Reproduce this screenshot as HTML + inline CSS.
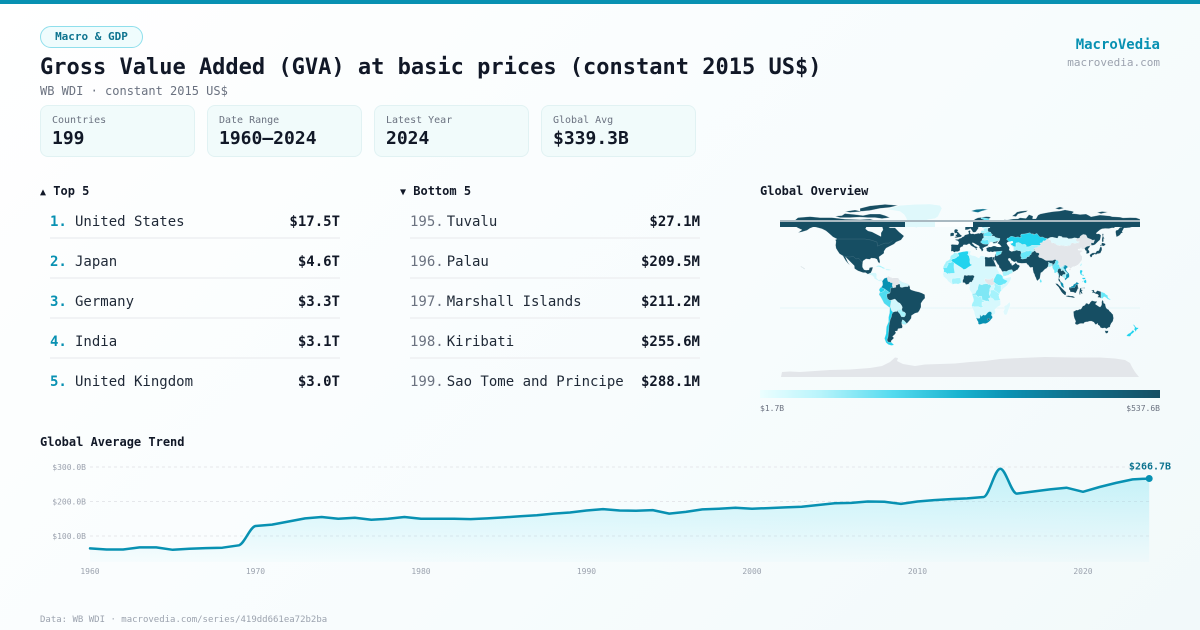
<!DOCTYPE html>
<html>
<head>
<meta charset="utf-8">
<style>
*{margin:0;padding:0;box-sizing:border-box;}
html,body{width:1200px;height:630px;overflow:hidden;}
body{font-family:"DejaVu Sans Mono","Liberation Mono",monospace;color:#111827;background:linear-gradient(135deg,#ffffff 0%,#f7fcfd 60%,#f2f9fa 100%);position:relative;}
.a{position:absolute;white-space:nowrap;}
.bar{left:0;top:0;width:1200px;height:4px;background:#0891b2;}
.pill{left:40px;top:26px;width:103px;height:22px;border:1px solid #8fdfec;border-radius:11px;background:#effcfd;color:#0e7490;font-size:11px;font-weight:bold;line-height:20px;text-align:center;}
.title{left:40px;top:53px;font-size:22px;font-weight:bold;line-height:30px;color:#111827;}
.sub{left:40px;top:83px;font-size:12px;line-height:16px;color:#6b7280;}
.brand{right:40px;top:35.5px;font-size:14px;font-weight:bold;line-height:18px;color:#0891b2;text-align:right;}
.site{right:40px;top:56px;font-size:11px;line-height:14px;color:#9ca3af;text-align:right;}
.card{top:105px;width:155px;height:52px;background:#f1fbfb;border:1px solid #e1f2f3;border-radius:8px;}
.card .l{position:absolute;left:11px;top:7.5px;font-size:10px;line-height:14px;color:#6b7280;}
.card .v{position:absolute;left:11px;top:21.5px;font-size:18px;font-weight:bold;line-height:22px;color:#111827;}
.h{font-size:12px;font-weight:bold;line-height:16px;color:#111827;}
.row{height:20px;line-height:20px;font-size:14px;}
.rk{display:inline-block;min-width:22px;margin-right:3px;}
.rk.t{color:#0891b2;font-weight:bold;}
.rk.b{color:#6b7280;}
.nm{color:#1f2937;}
.val{position:absolute;right:0;top:0;font-weight:bold;color:#111827;}
.sep{height:2px;background:#f1f3f5;}
.cbl{font-size:8px;line-height:10px;color:#6b7280;}
.foot{left:40px;top:614px;font-size:9px;line-height:12px;color:#9ca3af;}
</style>
</head>
<body>
<div class="a bar"></div>
<div class="a pill">Macro &amp; GDP</div>
<div class="a title">Gross Value Added (GVA) at basic prices (constant 2015 US$)</div>
<div class="a sub">WB WDI · constant 2015 US$</div>
<div class="a brand">MacroVedia</div>
<div class="a site">macrovedia.com</div>

<div class="a card" style="left:40px;"><div class="l">Countries</div><div class="v">199</div></div>
<div class="a card" style="left:207px;"><div class="l">Date Range</div><div class="v">1960–2024</div></div>
<div class="a card" style="left:374px;"><div class="l">Latest Year</div><div class="v">2024</div></div>
<div class="a card" style="left:541px;"><div class="l">Global Avg</div><div class="v">$339.3B</div></div>

<div class="a h" style="left:40px;top:183px;"><span style="font-size:10px;">▲</span> Top 5</div>
<div class="a h" style="left:400px;top:183px;"><span style="font-size:10px;">▼</span> Bottom 5</div>
<div class="a h" style="left:760px;top:183px;">Global Overview</div>

<!-- Top 5 -->
<div class="a row" style="left:50px;top:212px;width:290px;"><span class="rk t">1.</span><span class="nm">United States</span><span class="val">$17.5T</span></div>
<div class="a sep" style="left:50px;top:237px;width:290px;"></div>
<div class="a row" style="left:50px;top:252px;width:290px;"><span class="rk t">2.</span><span class="nm">Japan</span><span class="val">$4.6T</span></div>
<div class="a sep" style="left:50px;top:277px;width:290px;"></div>
<div class="a row" style="left:50px;top:292px;width:290px;"><span class="rk t">3.</span><span class="nm">Germany</span><span class="val">$3.3T</span></div>
<div class="a sep" style="left:50px;top:317px;width:290px;"></div>
<div class="a row" style="left:50px;top:332px;width:290px;"><span class="rk t">4.</span><span class="nm">India</span><span class="val">$3.1T</span></div>
<div class="a sep" style="left:50px;top:357px;width:290px;"></div>
<div class="a row" style="left:50px;top:372px;width:290px;"><span class="rk t">5.</span><span class="nm">United Kingdom</span><span class="val">$3.0T</span></div>

<!-- Bottom 5 -->
<div class="a row" style="left:410px;top:212px;width:290px;"><span class="rk b">195.</span><span class="nm">Tuvalu</span><span class="val">$27.1M</span></div>
<div class="a sep" style="left:410px;top:237px;width:290px;"></div>
<div class="a row" style="left:410px;top:252px;width:290px;"><span class="rk b">196.</span><span class="nm">Palau</span><span class="val">$209.5M</span></div>
<div class="a sep" style="left:410px;top:277px;width:290px;"></div>
<div class="a row" style="left:410px;top:292px;width:290px;"><span class="rk b">197.</span><span class="nm">Marshall Islands</span><span class="val">$211.2M</span></div>
<div class="a sep" style="left:410px;top:317px;width:290px;"></div>
<div class="a row" style="left:410px;top:332px;width:290px;"><span class="rk b">198.</span><span class="nm">Kiribati</span><span class="val">$255.6M</span></div>
<div class="a sep" style="left:410px;top:357px;width:290px;"></div>
<div class="a row" style="left:410px;top:372px;width:290px;"><span class="rk b">199.</span><span class="nm">Sao Tome and Principe</span><span class="val">$288.1M</span></div>

<div class="a h" style="left:40px;top:433.5px;">Global Average Trend</div>

<svg class="a" style="left:0;top:0;" width="1200" height="630" viewBox="0 0 1200 630">
<defs>
<linearGradient id="cb" x1="0" y1="0" x2="1" y2="0">
<stop offset="0" stop-color="#ecfeff"/>
<stop offset="0.15" stop-color="#b8f4fb"/>
<stop offset="0.33" stop-color="#55dbef"/>
<stop offset="0.5" stop-color="#19b3cf"/>
<stop offset="0.62" stop-color="#0b92b3"/>
<stop offset="0.78" stop-color="#10718d"/>
<stop offset="1" stop-color="#164e63"/>
</linearGradient>
<linearGradient id="ar" x1="0" y1="468" x2="0" y2="562" gradientUnits="userSpaceOnUse">
<stop offset="0" stop-color="#22d3ee" stop-opacity="0.24"/>
<stop offset="1" stop-color="#22d3ee" stop-opacity="0.02"/>
</linearGradient>
</defs>

<!-- MAP -->
<line x1="780" y1="308" x2="1140" y2="308" stroke="#e4f6f9" stroke-width="1"/>
<polygon fill="#e3e6ea" points="781,377 782,372 790,371.5 800,372 815,371 830,370 850,369.5 870,368 882,366 890,362 895,357.5 898,358 897,361 903,364 915,366 925,364.5 940,364 955,363.5 970,362 985,361 1000,359 1020,358 1045,357 1075,357.5 1100,357.5 1115,358.5 1125,360 1130,363 1132,367 1135,372 1139,377"/>
<g transform="translate(960,289) scale(1,-1.02)" stroke="#ffffff" stroke-width="0.25" stroke-linejoin="round">
<!-- North America -->
<polygon fill="#164e63" points="-168,65 -162,70 -150,71 -140,70 -128,70 -115,68.5 -100,68 -90,68.5 -82,66.5 -86,64 -93,62 -94.5,59 -92,57 -88,56 -82,53 -79,51.5 -79,55 -77,58 -78,62 -73,62 -70,60 -65,60 -61,56 -56,52 -59,48 -64,46 -66,44 -70,42 -74,40 -76,37 -76,35 -81,31.5 -80,27 -80.5,25 -82,26.5 -83,29 -85,30 -89,30.3 -90,29 -94,29.5 -97,27.5 -97.5,24 -97.5,21.5 -96,19 -94,18.5 -91,18.8 -90.5,21 -87,21.5 -88,18 -89,15.8 -92,14.5 -94.5,16 -97,16 -102,17.8 -105.5,20 -105.7,22.8 -109,26 -112,29 -114.5,31.5 -113,28 -112,26 -110,23 -112,25 -114.5,28 -116,30.5 -117.1,32.5 -120.5,34.5 -122.5,37.5 -124,40 -124.5,43 -124,46.5 -124.7,48.3 -123,49 -127,51 -131,54.5 -134,57 -138,59 -142,60 -146,61 -150,59.5 -153,57.5 -158,56 -162,55.2 -158,58 -162,59.8 -165,61.5 -164,63.5 -168,65.5"/>
<polyline fill="none" stroke="#ffffff" stroke-opacity="0.35" points="-123,49 -95,49 -89,48 -83,46 -82.5,42 -79,43.5 -75,45 -71,45 -67.5,47.5"/>
<polyline fill="none" stroke="#ffffff" stroke-opacity="0.35" points="-117.1,32.5 -111,31.3 -106.5,31.8 -104,29.5 -101,29.8 -97.5,26"/>
<polygon fill="#164e63" points="-125,71.5 -118,72 -115,74 -105,73 -97,72 -90,73.5 -80,73.5 -75,72 -70,70 -78,69 -85,70 -92,70 -100,70.5 -110,70 -120,70"/>
<polygon fill="#164e63" points="-100,76 -90,77 -80,79 -70,80 -62,82 -75,83 -90,81.5 -100,79"/>
<polygon fill="#164e63" points="-115,76 -105,77.5 -98,76 -110,75"/>
<polygon fill="#164e63" points="-160,22 -157,21 -155,19 -156,20.5 -158,21.7"/>
<!-- Greenland / Iceland -->
<polygon fill="#dff8fb" points="-73,78 -67,80 -60,82 -45,83 -30,83.3 -20,82 -18,79 -20,75 -22,71 -25,69 -32,68 -38,65.5 -43,60 -48,61 -51,64 -53,67 -54,70 -56,73 -60,76 -66,77"/>
<polygon fill="#164e63" points="-24,65.5 -22,64 -18,63.5 -14,64.5 -14,66 -17,66.5 -22,66.5"/>
<!-- Central America & Caribbean -->
<polygon fill="#d2f7fc" points="-92,14.5 -89,15.8 -88,18 -88.5,16 -84,15.8 -83.2,14 -83.5,11 -81.5,9 -79,9.5 -77.5,8.8 -77.8,7.5 -79,8 -80.5,7.3 -82,8.2 -85.7,10 -86,11.5 -87.5,13 -90,13.8"/>
<polygon fill="#a5f3fc" points="-85,21.8 -82,23.1 -80,23 -77,21.5 -74.2,20.2 -77,19.9 -78,20.7 -81,21.8"/>
<polygon fill="#d2f7fc" points="-74.4,19.8 -72,19.9 -69,19 -68.5,18.5 -71,18 -74.4,18.4"/>
<!-- South America -->
<polygon fill="#164e63" points="-77.8,7.5 -77,8.8 -75.5,10.5 -73,11.3 -71.5,12.4 -70,11.5 -68,10.8 -64,10.7 -62,10.7 -60.5,8.5 -58,6.8 -55,5.9 -52,4.9 -51,4 -50,1.8 -50,0 -48.5,-1 -44.5,-2.2 -41,-3 -38,-4 -35.2,-5.5 -35,-9 -37,-11 -39,-14 -39,-17.8 -40.5,-21 -42,-23 -45,-23.8 -48.5,-26 -48.7,-28.6 -50.5,-31 -53,-33.7 -54.9,-34.9 -57.5,-34.6 -58.5,-33.8 -57.5,-36.5 -57.8,-38.3 -62,-39 -62.5,-41 -65,-41.5 -64,-43 -65.6,-45 -67.5,-46.5 -66,-48 -69,-51 -68.5,-52.5 -66,-54.8 -68.5,-55.4 -71.5,-54.5 -74,-52.5 -75.5,-48.5 -74,-44 -73.7,-40 -73.5,-37 -71.5,-32.5 -71.5,-28 -70.4,-23.5 -70.2,-18.3 -72,-17 -76,-14 -77.5,-11 -79.5,-7.5 -81,-5.5 -80.4,-3.5 -80,-2.5 -81,-1 -80,0.8 -78.8,1.8 -78,2.6 -77.3,3.9 -77.5,6.5"/>
<polygon fill="#e3e6ea" points="-73,11.3 -71.5,12.4 -70,11.5 -68,10.8 -64,10.7 -62,10.7 -60.5,8.5 -61,7.2 -60.6,5.2 -62.8,4 -64.2,3.8 -64.1,1.7 -66.8,1.2 -67.8,2.9 -67.5,6.1 -69.4,6.1 -70.1,7 -72,7.3 -72.4,8.5 -72.8,10.5"/>
<polygon fill="#d2f7fc" points="-60.5,8.5 -58,6.8 -55,5.9 -52,4.9 -51,4 -52,2.3 -54.5,2.3 -56.5,1.9 -58,1.5 -59.7,1.9 -60.1,4.5 -61,5.2 -60.6,5.2 -61,7.2"/>
<polygon fill="#0891b2" points="-77.8,7.5 -77,8.8 -75.5,10.5 -73,11.3 -72.8,10.5 -72.4,8.5 -72,7.3 -70.1,7 -69.4,6.1 -67.5,6.1 -67.8,2.9 -66.8,1.2 -69.5,1 -69.5,-1 -70,-4 -72,-2.4 -73.6,-1.3 -75.3,-0.1 -77.4,0.8 -78.8,1.8 -78,2.6 -77.3,3.9 -77.5,6.5"/>
<polygon fill="#22d3ee" points="-78.8,1.8 -77.4,0.8 -75.3,-0.1 -75.6,-1.6 -78.3,-3.4 -80.4,-3.5 -80,-2.5 -81,-1 -80,0.8"/>
<polygon fill="#4fdcf0" points="-80.4,-3.5 -78.3,-3.4 -75.6,-1.6 -75.3,-0.1 -73.6,-1.3 -72,-2.4 -70,-4 -73,-5 -73.2,-7 -72.5,-9.5 -70.5,-11 -69,-11 -68.8,-12.5 -69.4,-15.4 -69.8,-17.7 -70.2,-18.3 -72,-17 -76,-14 -77.5,-11 -79.5,-7.5 -81,-5.5"/>
<polygon fill="#d2f7fc" points="-69,-11 -66,-10 -65,-9.8 -62,-13 -60,-14 -58.3,-16.3 -57.6,-18 -58.2,-19.8 -62,-20.5 -62.8,-22 -65,-22 -67,-22.8 -68.6,-21 -69.6,-17.7 -69.4,-15.4 -68.8,-12.5"/>
<polygon fill="#a5f3fc" points="-58.2,-19.8 -57.6,-22 -55.6,-22.6 -54.3,-24 -54.6,-26 -55.7,-27.4 -58.6,-27.2 -60,-24.5 -62,-22.3 -62,-20.5"/>
<polygon fill="#a5f3fc" points="-57.6,-30.2 -56,-30.9 -53.4,-33.7 -54.9,-34.9 -57.5,-34.6 -58.4,-33.1"/>
<polygon fill="#22d3ee" points="-70.2,-18.3 -69.6,-17.7 -68.6,-21 -67,-22.8 -68.3,-25 -68.5,-27 -69.8,-30 -70.5,-33 -71,-36 -71.2,-40 -71.7,-44 -72,-47 -73,-50 -72,-52 -69,-52.3 -68.5,-52.5 -66,-54.8 -68.5,-55.4 -71.5,-54.5 -74,-52.5 -75.5,-48.5 -74,-44 -73.7,-40 -73.5,-37 -71.5,-32.5 -71.5,-28 -70.4,-23.5"/>
<!-- Eurasia base -->
<polygon fill="#164e63" points="-9,37 -8.8,42 -9.2,43.2 -8,43.7 -2,43.4 -1.4,44.5 -1.2,46 -2.2,47.2 -4.5,47.9 -4.7,48.6 -1.5,48.7 -1,49.4 1.5,50.1 2.5,51.1 4,51.6 4.8,53 7,53.5 8.7,53.9 8.6,55.5 8.1,56.8 10,57.6 10.5,56.5 10,55 11,54 13,54.3 14.3,53.8 18.5,54.7 19.9,54.4 21,55.3 21,57 23,57.4 24.3,57.3 23.5,58.5 23.5,59.2 26,59.5 28,59.6 29.9,60.2 30,61 31,63 34,64.5 37,65 40,66 40,67.5 41,66.5 44,66 44,68 47,67.6 53,68.6 58,68.8 60,69.8 66,69.3 69,72.9 73,71.5 72.5,68.8 76,68.9 78,72.4 80.5,73.6 87,74.9 93,75.9 100,76.5 105,77.6 112,76.3 114,75.6 112,74 117,73.5 120,73 126,73.5 129,72 131,70.8 140,72.5 150,71.6 152,70.9 160,70.5 163,69.7 170,70 176,69.8 180,68.5 180,65.5 178,64.5 176,62.5 173,61.2 170,60.2 166,59.8 164,59.8 163,58 162,56.2 163,55.5 161,54.5 160,53 158.5,52 156.5,51 156,53 155.5,56 156,57.5 158,58 160,60.5 161.5,60.5 163,62 161,62.5 159,61.8 156,61.6 154,59.8 152,59.9 149,59.2 145,59.3 142,59 140,58 138,56.4 136,54.6 137,54 139,54.2 141,52.8 140.5,50 140,48.2 138,46.5 135,43.5 133,42.8 131,42.8 130,42.3 129.7,41 129,40.5 128,39 129.4,37 129.3,35.3 127,34.6 126.3,34.6 126.5,36.8 126.1,37.7 125.2,37.7 125,38.7 124.8,39.7 122.9,39.6 121.5,38.9 121.6,40.9 121,40.5 120,40 119,39.2 118,39.2 117.5,38.6 118.9,37.5 120.8,37.9 122.5,37.4 119.7,35.5 120.9,32.7 121.9,31.7 121.9,30 122,28.9 121,27.7 120,26.5 119.5,25.7 118.6,24.5 117.3,23.6 115.9,22.8 114.2,22.2 113,22.2 111.8,21.5 110.5,20.3 110,21 109,21.5 108,21.5 106.7,20.7 105.7,19 106.4,18 107.4,16.7 108.9,15.3 109.3,13.4 109.2,11.7 107.2,10.4 106.4,9.5 105.2,8.6 104.8,9.4 105.1,10 104.3,10.5 102.6,12.2 101,12.7 100,13.4 100,12.3 99.2,10.3 99.9,9.2 100.5,7.4 101.6,6.7 102.1,6.2 103.4,4.9 103.3,3.7 104.2,1.3 103.5,1.2 101.4,2.8 100.1,6.5 98.5,8.3 98.3,10 98.5,13 97.8,14.8 97.2,16.9 95.4,15.7 94.2,16 94.3,18.2 93,19.9 92.3,21.5 91.4,22.8 90.3,21.8 88.9,21.7 88,22 86.5,20.2 85,19.5 82.2,16.6 80.8,15.9 80.3,13 79.9,10.4 78.3,8.9 77.5,8 76.6,8.9 75.7,11.3 74.9,12.7 74.4,14.6 73.5,16 72.8,19.2 72.8,20.4 72.6,21.4 70.5,20.9 69.2,22.1 68.2,23.7 67.4,23.9 66.4,25.4 64.5,25.2 61.5,25.1 57.4,25.7 56.5,27.1 55.7,26.9 54.7,26.5 53.5,26.8 52.5,27.6 51.5,27.9 50.1,30.1 48.6,29.9 48.1,29.5 48.4,28.6 48.8,27.7 49.5,27.1 50.2,26.7 50.1,25.9 50.7,25 51.6,25.2 51.6,24.2 52,23 54,24.1 55.4,25.4 56.1,26.1 56.4,24.9 57.4,23.9 58.7,23.6 59.8,22.5 59.3,21.4 58.5,20.4 57.8,19 56.6,18.6 55.3,17.6 52.4,16.4 52.2,15.6 49.6,14.7 48.7,14 45,12.7 43.5,12.6 42.6,15.2 42.8,16.3 42.6,17 41.8,17.8 41.2,18.7 40.9,19.5 40.2,20.2 39.1,21.3 39,22.6 38.5,23.7 37.5,24.3 37.2,25.1 36.9,25.6 36.6,26 35.6,28 34.8,28.1 34.6,28.1 34.4,28.3 34.2,31.2 34.6,31.5 35,33 35.8,34.6 36,35.8 35.8,36.6 34.7,36.8 32.5,36.1 30.6,36.7 29.7,36.1 27.6,36.7 26.3,38.2 26.8,39 26.2,39.5 26.6,40.3 29,41.2 28,41.6 28,42 27.3,42.1 24,40.8 23.7,40.3 22.6,40.3 23.4,38.5 22.8,37.3 21.6,36.8 21.3,38.4 19.4,40.3 19.3,41.9 18.5,42.5 17,43.2 15.2,44.2 13.6,45.1 12.3,45.4 12.3,44.6 13.5,43.6 14.8,42.1 16.2,41.7 18,40.6 18.5,40.2 16.9,40.4 16.4,39.8 17.2,39 16.4,38.4 15.7,38.2 15.9,39.5 15.4,40 14.1,40.8 12.4,41.7 10.5,42.9 10,44 8.9,44.4 7.8,43.8 6.5,43.1 4.6,43.4 3.1,43.1 3.2,41.9 0.8,41 0,39.9 0.1,38.7 -0.3,37.5 -2.1,36.7 -4.4,36.7 -5.4,35.9 -6.2,36.4 -7.5,37.1 -8.9,36.9"/>
<polygon fill="#164e63" points="5,58 5.2,60 5,62 8,63.5 10.5,64.5 13,66.5 15,68.5 18,69.8 22,70.3 26,71 29,70.8 31,70 29,69 29.5,67.5 30,65 30,63 31.5,62.3 30,61 28,60.4 25,60.3 22.5,60 21.5,61.5 21.5,63 25,65 24.5,65.8 22,65.7 21,64 19,63.5 17.5,62.5 17.5,61 18.7,60.2 18,59 16.5,57 16,56 14.3,55.5 12.8,55.6 12.5,56.5 11.5,58 10.5,59.3 9.8,59 8,58.2 6,58"/>
<polygon fill="#67e8f9" points="21.5,61.5 21.5,63 25,65 24.5,65.8 23.9,66.5 24,68 21,69 21,70 25,69.6 28.5,69 29,69 29.5,67.5 30,65 30,63 31.5,62.3 30,61 28,60.4 25,60.3 22.5,60"/>
<polygon fill="#164e63" points="-5.7,50 -3.5,50.3 -1,50.7 1.4,51.2 1.7,52.7 0.2,53.4 -0.5,54.3 -1.5,55.4 -2,56 -2.8,56.3 -1.8,57.6 -3.1,58.6 -5,58.6 -5.7,57.6 -5.6,56.3 -6.2,56 -5,55 -4.7,54.7 -3.1,54.8 -3,53.4 -4.5,53.3 -4.2,52.3 -5.2,51.7 -3.2,51.4 -4.3,51.2"/>
<polygon fill="#164e63" points="-10,51.6 -6.2,52.1 -6,53.8 -5.7,54.6 -7.5,55.3 -8.3,55.2 -10,54.2 -9.5,53"/>
<!-- Europe overlays -->
<polygon fill="#a5f3fc" points="22.1,48.4 22.6,49.5 24,50.7 23.5,51.6 25.3,51.9 30.6,51.3 32,52.1 34.4,51.8 35.4,50.6 38,49.9 40,49.6 39.7,47.8 38.2,47.1 35,46.3 33.5,45.9 32.5,45.4 33.6,44.6 35.6,45.4 36.5,45.2 35.2,44.4 33.5,44.5 31.8,46.3 30.7,46.3 29.6,45.3 28.2,45.5 28.7,46.4 28,48.2 26.6,48.2 24.9,47.7 22.7,47.9"/>
<polygon fill="#67e8f9" points="23.5,51.6 23.5,53.9 24.7,54.9 26.5,55.6 28.2,56.2 30.9,55.6 30.8,54.8 32.7,53.4 31.5,52.5 32,52.1 30.6,51.3 25.3,51.9"/>
<polygon fill="#a5f3fc" points="21,55.3 21,57 23,57.4 24.3,57.3 23.5,58.5 23.5,59.2 26,59.5 28,59.6 27.8,57.6 28.2,56.2 26.5,55.6 24.7,54.9 22.8,54.4 21.3,55.2"/>
<polygon fill="#67e8f9" points="22.1,48.4 24.9,47.7 26.6,48.2 28,48.2 28.7,46.4 28.2,45.5 29.6,45.3 28.6,43.8 27.5,44 25.6,43.7 22.7,44.2 21.4,45.2 20.3,46.1 21.6,47"/>
<polygon fill="#fbfefe" stroke="none" points="27.5,42.2 28,43.3 28.6,43.8 29.6,45.3 30.7,46.3 31.8,46.3 33.5,44.5 35.2,44.4 36.5,45.2 38.2,47.1 39.7,47.8 38.5,46 37.5,45 38.5,44.4 40,43.4 41.6,41.5 39.5,41 36.9,41.3 35,42 33.2,42 31,41.1 29,41.2"/>
<!-- Asia overlays -->
<polygon fill="#22d3ee" points="46.7,44.6 47.4,45.8 48.6,46.3 49.1,46.5 48.6,47.1 46.6,48.4 47.3,49.1 47,49.8 48.6,50 50.8,51.7 52.3,51.7 55.7,50.6 56.8,51 58.4,51.1 59.6,50.5 61.3,50.8 61.6,51.3 60,51.9 60.9,52.5 61,53.7 62,53.8 64.9,54 67,54.5 70,55.2 71.2,54.1 73.5,54 73,53.1 74.5,53.5 76.9,54.5 78.5,52.5 80,50.9 82.8,51 85,49.8 86.8,49.8 87.4,49.2 85.8,48 85.2,47 83.2,47.3 82.5,45.5 79.9,44.9 80.9,43.2 80.2,42.9 75,42.8 71.8,42.9 70.4,42 69,41.4 66.7,41.2 66,42 66.1,43 64.9,43.7 62,43.5 61,44.4 58.5,45.6 56,45 56,41.3 55,41.3 53,42 52.5,42.8 51.3,43.1 50.3,44.6"/>
<polygon fill="#a5f3fc" points="53,42 55,41.3 56,41.3 56,45 58.5,45.6 61,44.4 62,43.5 64.9,43.7 66.1,43 66,42 66.7,41.2 69,41.4 70.4,42 71.8,42.9 75,42.8 80.2,42.9 80.2,42 78.5,41.6 76.5,40.4 74.8,40.4 73.6,39.4 75,37.4 73.9,37.4 71.5,36.9 70.7,37.9 69,37.3 67.8,37.1 66.5,37.4 64.5,36.3 61.2,35.6 60.4,37.5 58.4,37.5 56.6,38.1 54.8,37.4 53.9,37.2 53.7,39.5 54.1,40.8 52.8,41.1 52.7,42.4"/>
<polygon fill="#fbfefe" stroke="none" points="46.7,44.6 47.4,45.8 48.6,46.3 50.3,46.6 51.3,47 53,46.8 53.1,45.3 51.3,44.5 50.3,44.6 51.3,43.1 52.7,42.4 52.8,41.1 54.1,40.8 53.7,39.5 53.9,37.2 51.6,36.7 50,37.4 48.9,38.2 49.2,39 49.4,40.6 49.6,40.2 48.5,41.8 47.5,43"/>
<polygon fill="#67e8f9" points="61.2,35.6 64.5,36.3 66.5,37.4 67.8,37.1 69,37.3 70.7,37.9 71.5,36.9 74,37 71.5,35.5 71.2,34 69.7,33.1 69.3,31.9 67.8,31.6 66.9,31.3 66.4,29.9 62.5,29.3 60.9,29.8 61.7,31.4 60.9,31.5 60.5,33.1 60.9,34.4"/>
<polygon fill="#dff9fd" points="87.8,49.3 90,50.5 92.2,50.8 97.3,49.7 98.2,50.4 97.8,51 98.9,52 102,51.3 102.3,50.5 106.9,50.3 108.5,49.3 112,49.5 114.4,50.2 116.7,49.9 116,47.9 117.4,46.6 119.7,46.7 119,45.3 115,44.5 111.8,45.1 111.4,44.4 110.3,42.5 106,42 101.8,42.5 97,42.8 95.3,44.2 93.5,45 90.9,45.3 90.6,46.2 91,47 90.3,47.7 88.9,48.1"/>
<polygon fill="#e3e6ea" points="73.7,39.4 75,40.4 76.5,40.4 78.5,41.6 80.2,42 80.2,42.9 80.9,43.2 79.9,44.9 82.5,45.5 83.2,47.3 85.2,47 85.8,48 87.4,49.2 87.8,49.3 88.9,48.1 90.3,47.7 91,47 90.6,46.2 90.9,45.3 93.5,45 95.3,44.2 97,42.8 101.8,42.5 106,42 110.3,42.5 111.4,44.4 111.8,45.1 115,44.5 119,45.3 119.7,46.7 117.4,46.6 116,47.9 116.7,49.9 117.9,49.5 119.8,50.2 120.2,51.6 122,53 123.5,53.5 126,53 127.5,50 130.6,48.9 132.7,47.8 134.5,48.2 134.5,47.6 133.4,45 131.9,45.3 131,44.8 131.3,43 130.6,42.9 129.6,42.4 128,42 126.9,41.8 125,40.5 124.3,39.9 122.9,39.6 121.5,38.9 121.6,40.9 121,40.5 120,40 119,39.2 118,39.2 117.5,38.6 118.9,37.5 120.8,37.9 122.5,37.4 119.7,35.5 120.9,32.7 121.9,31.7 121.9,30 122,28.9 121,27.7 120,26.5 119.5,25.7 118.6,24.5 117.3,23.6 115.9,22.8 114.2,22.2 113,22.2 111.8,21.5 110.5,20.3 110,21 109,21.5 108,21.5 106.7,22.8 105.3,23.4 103.5,22.7 102.2,22.4 101.6,21.2 100.1,21.4 99.2,22.1 99.5,23 98.7,24.1 97.6,23.9 98.7,25.9 98.2,27.7 97,28.3 96.2,28.4 95,29 92.5,27.9 91.2,28 89.5,28 88.2,27.9 86,27.9 84.7,28.6 83.3,29.5 81.5,30.4 79,31 78.7,31.9 78,32.5 79.2,33 79.2,35 78,35.5 76.2,35.8 75.4,37 74.9,37.6 74.8,38.6"/>
<polygon fill="#67e8f9" points="92.7,22 93.2,22.3 93.1,22.7 93.2,24.1 94.1,23.9 94.6,25.2 95.3,26 95.2,27 96.4,28.4 97,28.3 98.2,27.7 98.7,25.9 97.6,23.9 98.7,24.1 99.5,23 99.2,22.1 100.1,21.4 101.2,21.4 100.3,20.4 99,20 98.3,19.7 97.8,18.6 97.4,16.9 98.5,15.3 98.9,14.3 99.1,13.8 98.4,12 98.8,10.7 98.5,10 98.5,13 97.8,14.8 97.2,16.9 95.4,15.7 94.2,16 94.3,18.2 93,19.9 92.3,21.5"/>
<polygon fill="#a5f3fc" points="88.1,22 88.9,21.7 90.3,21.8 91.4,22.8 92.3,21.5 92.7,22 92.4,24.9 91.2,25.2 90,25.3 89.3,26 88.6,26.4 88.2,25.8 88.6,25.1 88.4,24"/>
<polygon fill="#a5f3fc" points="100.1,21.4 101.6,21.2 102.2,22.4 103.5,22.7 104.5,22 103,20.7 104.4,19.6 104.8,18 106.5,16.6 107.3,15.9 107.5,14.7 106.5,14.6 106,13.9 106,11 104.8,10.5 104.3,10.5 102.6,12.2 102.3,13.4 103,14.2 105.2,14.3 105.5,15.6 104.8,16.4 103.2,18.3 102.1,18.1 101.3,17.6 101.1,18.5 101.3,19.5 100.6,19.5 100.5,20.1"/>
<polygon fill="#0891b2" points="102.2,22.4 103.5,22.7 105.3,23.4 106.7,22.8 108,21.5 106.7,20.7 105.7,19 106.4,18 107.4,16.7 108.9,15.3 109.3,13.4 109.2,11.7 107.2,10.4 106.4,9.5 105.2,8.6 104.8,9.4 105.1,10 104.3,10.5 104.8,10.5 106,11 106,13.9 106.5,14.6 107.5,14.7 107.3,15.9 106.5,16.6 104.8,18 104.4,19.6 103,20.7 104.5,22"/>
<polygon fill="#0891b2" points="100.1,6.5 101.4,2.8 103.5,1.2 104.2,1.3 103.3,3.7 103.4,4.9 102.1,6.2 101.6,6.7 100.5,6.4"/>
<polygon fill="#a5f3fc" points="42.6,15.2 43.5,12.6 45,12.7 48.7,14 49.6,14.7 52.2,15.6 52.4,16.4 53.1,16.7 52,19 49,18.6 48.2,18.2 46.4,17.2 44,17.4 43.2,17.1 42.8,16.3"/>
<polygon fill="#67e8f9" points="35.8,34.6 36,35.8 35.8,36.6 36.7,36.8 38.2,36.9 40.7,37.1 42.3,37.2 41.8,36.6 41.3,35.6 41,34.4 38.8,33.4 36.8,32.3 35.7,32.7 36.1,33.8"/>
<polygon fill="#67e8f9" points="79.8,6.5 81.2,6.2 81.9,7.5 80.8,9.8 79.9,8.8"/>
<polygon fill="#a5f3fc" points="120.1,23 121,22 121.9,24.5 121.5,25.3 120.7,24.5"/>
<polygon fill="#e3e6ea" points="108.7,19.3 110.2,20.1 111,19.7 110.5,18.4 109.5,18.2"/>
<polygon fill="#164e63" points="129.6,33.2 130.9,34.4 132.6,35.4 135.7,35.5 136.7,37.3 138.9,37.8 139.9,40.6 140.3,41.2 141.4,41.4 141.9,40 141.9,38.2 141,36.4 140.5,35.2 138.9,34.7 137.2,34.6 135.8,33.5 135.1,34.6 133.3,33.3 132.3,33 131.9,31.4 130.7,31 130.2,32"/>
<polygon fill="#164e63" points="140,41.6 141.4,42.6 143.5,42 145.5,43.3 145.3,44.4 142.6,45.4 141.4,45 141.9,43.8 140.4,43.3"/>
<polygon fill="#164e63" points="142,46 143.6,46.5 143.5,49.5 144.6,48.9 143.2,51.8 143.6,54 142.2,54.2 142.6,51.7 142,49.5 141.9,48"/>
<!-- Arctic islands -->
<polygon fill="#164e63" points="52,71.5 55,73.5 57,75.5 61,76.3 68,76.9 66,75.5 58,73.5 56,71"/>
<polygon fill="#164e63" points="95,79 100,80.5 104,79.3 99,78"/>
<polygon fill="#164e63" points="137,75 142,76 148,75.5 141,73.8"/>
<polygon fill="#0e7490" points="11,76.5 16,78 23,78.5 28,78 22,76.5 18,75 15,75.5"/>
<!-- Africa -->
<polygon fill="#d7f8fd" points="-17.1,21 -16.3,19.1 -16.1,17.6 -16.7,15.6 -17.5,14.7 -16.7,13.6 -16.8,12.4 -15.6,11.5 -14.7,10.7 -13.2,9.5 -12.1,7.7 -11,6.9 -9.5,5.7 -7.5,4.4 -5.8,5 -3.3,5.1 -1.9,4.7 0,5.6 1.7,6.2 3.6,6.3 4.9,6 5.9,4.3 7.1,4.5 8.5,4.8 9.5,3.9 9.8,2.3 9.3,1.2 9.5,-0.5 10.1,-1.6 11.1,-3.1 11.9,-4.5 12.3,-6.1 13.2,-8.6 13.6,-10.7 13.4,-12.3 12.5,-13.5 11.7,-15.8 11.8,-18 12.8,-19.7 14.1,-22.1 14.4,-24.4 15.3,-27.2 16.3,-28.6 17.2,-30.7 18.2,-32.4 18.2,-33.9 19,-34.8 20,-34.8 21.6,-34.3 23,-33.8 25.8,-33.9 27.4,-33.2 28.8,-32.2 30.4,-30.8 31.3,-29.4 32.2,-28.8 32.6,-27.5 32.5,-26.1 32.8,-25.7 33,-25.4 35,-24.5 35.4,-23.5 35.5,-22.1 35.4,-21.8 34.7,-20.5 35.1,-19.8 36.5,-18.8 37.4,-17.6 39.5,-16.7 40.6,-15.3 40.5,-10.8 39.9,-10.1 39.2,-8.5 39.2,-7.7 38.7,-6.5 39.4,-5 40.3,-2.6 41.6,-1.7 41.8,-1.4 43.2,0.3 44.1,1.1 46.6,2.9 47.7,4.2 48.9,5.9 49.5,6.8 50.8,9 51.1,10.6 51,11.2 51.1,12 49.7,11.6 48.4,11.4 46.7,10.9 45.6,10.7 44.6,10.4 43.7,10.9 43.5,11.3 43.1,11.5 42.7,12.5 42.3,13.5 40.8,14.7 39.3,15.6 38.9,16.8 38.2,17.9 37.9,18.4 37.1,19.8 37.2,21 36.3,22.2 35.5,23.8 35.1,24.9 33.9,27.6 32.4,29.9 32.3,31.3 31.9,31.5 30,31.3 28.9,30.9 25.2,31.6 23.9,32.2 22.9,32.6 21.5,32.8 20.1,32.2 19.8,31.8 19.1,30.3 18,30.8 15.2,32.3 13.9,32.7 12.7,32.8 11.1,33.3 10.3,33.8 10.2,35.2 11.1,36.9 10.2,37.2 8.4,36.9 6.3,37.1 4.5,36.8 3.2,36.7 1,36.2 -0.6,35.8 -1.2,35.7 -2.2,35.2 -3.6,35.4 -5.2,35.8 -5.9,35.8 -6.2,35.1 -6.8,34.1 -7.6,33.7 -9.3,32.6 -9.8,31.2 -9.7,29.9 -10.4,29.1 -11.7,28.1 -13.1,27.6 -14.4,26.3 -14.8,25.1 -15.9,23.7 -16.3,22.7"/>
<polygon fill="#22d3ee" points="-8.7,27.4 -8.7,28.8 -7.1,29.6 -5.2,30 -3.6,30.9 -2.2,32.2 -1.3,32.3 -1.7,33.9 -2.2,35.2 -1.2,35.7 -0.6,35.8 1,36.2 3.2,36.7 4.5,36.8 6.3,37.1 8.4,36.9 8.2,34.7 7.5,33.8 9.1,32.1 9.5,30.3 9.9,28.9 9.7,26.5 10.3,24.4 11.6,24 12,23.5 8.6,21.6 5.7,19.6 4.3,19.2 3.2,19.1 3.1,19.7 1.8,20.6 1.4,20.9 -1.6,22.8 -4.9,24.9"/>
<polygon fill="#67e8f9" points="-17.1,21 -16.3,19.1 -16.1,17.6 -16.7,15.6 -16.1,16.5 -14.6,16.4 -12.2,14.6 -11.5,15.4 -10.6,15.1 -9.7,15.3 -5.5,15.5 -5.3,16.3 -6.1,21.2 -6,24.9 -4.9,24.9 -8.7,27.4 -8.7,26 -12,26 -12,23.5 -13.1,22.8 -13,21.3"/>
<polygon fill="#a5f3fc" points="-8.7,27.4 -8.7,28.8 -7.1,29.6 -5.2,30 -3.6,30.9 -2.2,32.2 -1.3,32.3 -1.7,33.9 -2.2,35.2 -3.6,35.4 -5.2,35.8 -5.9,35.8 -6.2,35.1 -6.8,34.1 -7.6,33.7 -9.3,32.6 -9.8,31.2 -9.7,29.9 -10.4,29.1 -11.7,28.1 -13.1,27.6 -14.4,26.3 -14.8,25.1 -15.9,23.7 -16.3,22.7 -17.1,21 -13,21.3 -13.1,22.8 -12,23.5 -12,26 -8.7,26"/>
<polygon fill="#164e63" points="25,22 25,29.2 24.7,30 25.2,31.6 28.9,30.9 30,31.3 31.9,31.5 32.3,31.3 32.4,29.9 33.9,27.6 35.1,24.9 35.5,23.8 36.3,22.2 36.9,22"/>
<polygon fill="#164e63" points="32.3,31.3 34.2,31.2 34.4,28.3 34.6,28.1 33.9,27.6 32.4,29.9"/>
<polygon fill="#164e63" points="2.7,6.3 2.7,8.5 3.6,10.3 3.6,11.7 4.4,13.7 6.8,13.1 8.4,13.6 10,13.3 13.1,13.6 14.2,12.5 14.5,11.9 13.6,10.8 13.3,9 12.8,8.7 11.8,7 11.1,6.6 10.1,7 8.5,4.8 7.1,4.5 5.9,4.3 4.9,6 3.6,6.3"/>
<polygon fill="#a5f3fc" points="-7.5,4.4 -5.8,5 -3.3,5.1 -1.9,4.7 0,5.6 1.2,6 0.5,11 -2.9,10.9 -5.4,10.4 -6.2,10.5 -7.9,10.3 -8.3,7.7"/>
<polygon fill="#e3e6ea" points="24.6,8.2 25.1,10.3 27,9.6 29,9.6 30.8,9.7 32.4,11.1 33.2,10.7 33.8,9.5 34.1,8.6 33,7.8 35.3,5.5 34,4.3 31.9,3.6 30.8,3.5 29.7,4.6 28.4,4.3 27.3,5.2 25.1,7.5"/>
<polygon fill="#67e8f9" points="33,7.8 34.1,8.6 33.8,9.5 35.3,12.1 36.4,14.4 37.9,14.9 39.3,14.5 40.9,14.1 42.6,12.5 43.1,11.5 42.6,11.1 42.8,10.6 44.1,9.5 47.8,8 45,5 43.7,5 41.9,3.9 39.6,3.4 38.4,3.6 36.9,4.4 35.3,5.5"/>
<polygon fill="#a5f3fc" points="33.9,0.1 34.1,1.2 35,1.9 34.6,3.1 34,4.3 35.3,5.5 36.9,4.4 38.4,3.6 39.6,3.4 41.9,3.9 41,2.8 41,-0.9 41.6,-1.7 40.3,-2.6 39.4,-5 37.8,-3.7 33.9,-1"/>
<polygon fill="#a5f3fc" points="33.9,-1 37.8,-3.7 39.4,-5 38.7,-6.5 39.2,-7.7 39.2,-8.5 39.9,-10.1 40.5,-10.8 37.8,-11.3 35.3,-11.4 34.6,-11.5 33.2,-9.7 31.2,-8.6 30.7,-8.3 29.4,-5.9 30.4,-4.5 30.7,-3.4 30.5,-2.4 30.5,-1.1"/>
<polygon fill="#7fe7f5" points="12.3,-6.1 12.2,-5.8 12.3,-5.5 13,-5.9 16.3,-5.9 17,-7.5 19,-8 19.4,-7.2 21.7,-7.3 21.9,-9.5 22.2,-11.1 23.9,-10.9 24.3,-11.3 26.5,-11.9 27.2,-11.6 29.3,-12.4 29.6,-12.2 28.9,-10.5 28.4,-9.2 30.7,-8.3 29.4,-5.9 29.1,-4.5 29.3,-3.3 29.8,-1.4 29.6,-0.6 29.8,0.2 30.1,1.1 31.2,2.2 30.8,3.5 29.7,4.6 28.4,4.3 27.3,5.2 25.1,5 22.9,4.7 22.4,4 20.9,4.3 19.5,5 18.5,4.2 18.5,3.5 17.9,1.7 17.8,0.3 17.5,-0.7 16.4,-1.7 15.3,-4.3 13.9,-4.5 12.3,-4.6 12.1,-5"/>
<polygon fill="#a5f3fc" points="11.9,-5 12.3,-6.1 13.2,-8.6 13.6,-10.7 13.4,-12.3 12.5,-13.5 11.7,-15.8 11.8,-17.3 13.5,-17 14.1,-17.4 18.3,-17.3 20.9,-18.3 23.2,-17.5 21.9,-16.1 22,-12.9 24,-12.9 23.9,-10.9 22.2,-11.1 21.9,-9.5 21.7,-7.3 19.4,-7.2 19,-8 17,-7.5 16.3,-5.9 13,-5.9 12.3,-5.5 12.2,-5.8"/>
<polygon fill="#0891b2" points="16.3,-28.6 17.2,-30.7 18.2,-32.4 18.2,-33.9 19,-34.8 20,-34.8 21.6,-34.3 23,-33.8 25.8,-33.9 27.4,-33.2 28.8,-32.2 30.4,-30.8 31.3,-29.4 32.2,-28.8 32.6,-27.5 32,-26.3 31.3,-25.7 31.8,-24.1 31.2,-22.3 29.4,-22.1 28,-22.8 26.8,-24.2 25.7,-25.5 24.7,-25.7 23.3,-25.3 21.6,-26.7 20.9,-26.8 20.7,-25.9 19.9,-24.8 19.9,-28.5 17.8,-28.9 16.8,-28.1"/>
<polygon fill="#164e63" points="27,-29.9 28.5,-28.6 29.3,-29 29.4,-29.8 28.1,-30.6 27.5,-30.4"/>
<polygon fill="#dff9fd" points="49.5,-12.5 50.5,-15.2 49.9,-17 48.5,-20.5 47.1,-24.9 45.4,-25.6 44,-24.9 43.3,-22 44.4,-20 44,-17.4 44.9,-16.2 46.3,-15.8 47.7,-14.6 48.9,-13.2"/>
<!-- SE Asia islands -->
<polygon fill="#164e63" points="95.3,5.5 97.5,5.2 100.6,2.1 103.9,-1.1 106.1,-3.1 105.9,-5.9 104.7,-5.9 102.6,-4.2 101.4,-2.8 100.1,-0.7 98.6,1.8 96.4,3.9"/>
<polygon fill="#164e63" points="105.4,-6.8 108.5,-6.4 110.5,-6.9 112.6,-6.9 114.6,-7.8 114.5,-8.8 110.6,-8.1 108.3,-7.8 106.5,-7.4"/>
<polygon fill="#164e63" points="109,1.4 109.7,2 111,1.8 111.4,2.7 113,3.1 113.8,4.6 115.5,5.4 116.2,6.1 116.7,7 117.9,6 119.2,5.4 117.6,4.4 118,2.3 117.9,1.6 119,0.9 117.5,0.1 117.5,-0.8 116.6,-2.2 116,-3.7 114.9,-4.1 114.5,-3.5 113.3,-3.1 111.7,-3 111,-3 110.2,-2.9 110.1,-1.6 109.1,-0.5 109.1,0.4"/>
<polygon fill="#0891b2" points="109.7,2 111,1.8 111.4,2.7 113,3.1 113.8,4.6 115.5,5.4 116.2,6.1 116.7,7 117.9,6 119.2,5.4 117.6,4.4 115.9,4.3 115.4,3 114.6,1.4 113.8,1.2 112.9,1.5 111.2,1 110.5,0.8 109.8,1.3"/>
<polygon fill="#164e63" points="119.5,-5.5 120.4,-5.5 120.4,-3 121.5,-4.6 122.7,-4.5 121.5,-2 123.3,-1 121.5,-0.9 121,0.5 123,0.9 124.6,0.5 125,1.6 124.4,1.3 120.2,1 119.8,0 119.3,-3.5"/>
<polygon fill="#164e63" points="131,-1.3 134,-0.9 134.4,-2.8 135.5,-3.4 137.4,-1.5 139.2,-2.1 141,-2.6 141,-9.1 139.1,-8.1 138,-8.4 137.6,-7.6 138.7,-6.7 138,-5.4 135.2,-4.5 133.7,-3.6 132.8,-4.1 132,-2.8 133.1,-2.5 132.4,-2.1"/>
<polygon fill="#67e8f9" points="141,-2.6 142.7,-3.3 144.6,-3.9 145.8,-5.3 147.6,-6.1 147.9,-8.1 148.7,-9.1 149.7,-9.6 150.8,-10.3 150,-10.7 147.9,-10.1 146.6,-8.9 145,-7.8 144,-7.6 143.3,-8.2 142.6,-9.3 141,-9.1"/>
<polygon fill="#22d3ee" points="120,18.5 122.2,18.5 122.5,17 121.7,15.9 121.7,14.3 124,13.8 123.9,12.9 122.2,13.4 121,13.8 120.6,14.3 119.9,16"/>
<polygon fill="#22d3ee" points="122.5,11 124,11 125.2,11.1 125.5,10 124.6,9.5 123.2,9.4 122,10.4"/>
<polygon fill="#22d3ee" points="122,7 123,8 124.6,8.5 125.6,9.5 126.4,8 126.4,6.3 125.4,5.6 124.2,6.2 123.6,7.8 122.2,6.8"/>
<!-- Oceania -->
<polygon fill="#164e63" points="113.4,-22.1 113.7,-26.2 114.3,-28.6 115,-30 115.7,-31.6 115,-33.6 115.8,-34.8 117.5,-35 119.9,-33.9 121.3,-33.8 123.7,-33.9 124.3,-32.9 126.1,-32.2 127.1,-32.3 129.5,-31.6 131.3,-31.5 132.6,-32 133.9,-32.6 135.2,-34.5 136,-34.9 137.7,-33.6 137.8,-35.1 138.7,-35.5 139.6,-36.1 140.6,-38 142.7,-38.5 144.5,-38.1 145.3,-38.3 146.4,-39.1 147.5,-38.4 148.3,-37.8 150,-37.4 150.2,-35.9 151.2,-33.7 152.9,-31.6 153.6,-28.5 153.1,-26 153.1,-25.3 152,-24.1 150.7,-22.6 149.5,-21.7 148.8,-20.4 146.9,-19.4 146,-18.1 145.5,-16.4 145.3,-14.9 144.6,-14.2 143.6,-13.8 143.5,-12.3 142.5,-10.7 142.1,-11.3 141.6,-12.9 141.7,-15 141.2,-16.4 140.2,-17.7 139.3,-17.4 138.3,-16.8 137,-15.9 135.5,-15 135.5,-14.2 136.3,-13.7 136.9,-12.4 136.3,-11.9 135.3,-12.2 133.6,-11.8 132.6,-11.6 132.1,-11.3 130.8,-12.5 130.2,-13.1 129.4,-14.4 128.2,-14.9 127.1,-13.8 125.7,-14.2 125.2,-15.5 124,-16.4 123,-16.4 122.2,-17.7 121.6,-18.7 120.9,-19.7 119.3,-19.9 117.9,-20.7 116.2,-20.6 114.6,-21.6"/>
<polygon fill="#164e63" points="144.7,-40.7 146.4,-41.1 148.3,-40.9 148.2,-42.1 147.5,-43.3 146,-43.6 145.4,-42.7"/>
<polygon fill="#22d3ee" points="172.6,-34.5 174.3,-35.3 175.3,-36.6 176,-37.6 177.4,-38 178.4,-37.7 178.2,-39.2 176.9,-39.5 176,-41.3 175.2,-41.7 174.6,-41.2 175.2,-40.5 174.6,-39.9 173.8,-39.5 174.6,-38.8 174.7,-37.4 174.1,-36.5"/>
<polygon fill="#22d3ee" points="172.6,-40.5 173.9,-40.9 174.2,-41.8 173.2,-43 172.7,-43.4 171.4,-44.2 170.6,-45.9 169.3,-46.6 167.8,-46.3 166.7,-46.2 166.5,-45.9 167.9,-44.1 170.2,-43 171.5,-41.8 172.1,-40.9"/>
</g>
<!-- top band artifact -->
<rect x="780" y="220" width="360" height="2" fill="#a9b9c1"/>
<rect x="780" y="222" width="125" height="5" fill="#164e63"/>
<rect x="905" y="222" width="30" height="5" fill="#dff8fb"/>
<rect x="935" y="222" width="38" height="5" fill="#fbfefe"/>
<rect x="973" y="222" width="167" height="5" fill="#164e63"/>

<!-- colorbar -->
<rect x="760" y="390" width="400" height="8" fill="url(#cb)"/>

<!-- TREND CHART -->
<g stroke="#e5e7eb" stroke-width="1" stroke-dasharray="3,3">
<line x1="90" y1="467" x2="1149" y2="467"/>
<line x1="90" y1="501.5" x2="1149" y2="501.5"/>
<line x1="90" y1="536" x2="1149" y2="536"/>
</g>
<g font-family="DejaVu Sans Mono, monospace" font-size="8" fill="#9ca3af">
<text x="86" y="470" text-anchor="end">$300.0B</text>
<text x="86" y="504.5" text-anchor="end">$200.0B</text>
<text x="86" y="539" text-anchor="end">$100.0B</text>
<text x="90" y="574" text-anchor="middle">1960</text>
<text x="255.5" y="574" text-anchor="middle">1970</text>
<text x="421" y="574" text-anchor="middle">1980</text>
<text x="586.5" y="574" text-anchor="middle">1990</text>
<text x="752" y="574" text-anchor="middle">2000</text>
<text x="917.5" y="574" text-anchor="middle">2010</text>
<text x="1083" y="574" text-anchor="middle">2020</text>
</g>
<path fill="url(#ar)" d="M90,548.4 L106.55,549.5 L123.1,549.5 L139.65,547.4 L156.2,547.4 L172.75,549.8 L189.3,548.8 L205.85,548.1 L222.4,547.7 L238.95,545.3 C244.5,543.7 250,526.9 255.5,526 L272.05,524.6 L288.6,521.5 L305.15,518.4 L321.7,517 L338.25,518.8 L354.8,517.7 L371.35,519.8 L387.9,518.8 L404.45,517 L421,518.8 L437.55,518.8 L454.1,518.8 L470.65,519.1 L487.2,518.4 L503.75,517.4 L520.3,516.3 L536.85,515.3 L553.4,513.6 L569.95,512.5 L586.5,510.5 L603.05,509.1 L619.6,510.5 L636.15,510.8 L652.7,510.1 L669.25,513.6 L685.8,511.9 L702.35,509.4 L718.9,508.7 L735.45,507.7 L752,508.7 L768.55,508.1 L785.1,507.4 L801.65,506.7 L818.2,505 L834.75,503.2 L851.3,502.9 L867.85,501.5 L884.4,501.8 L900.95,503.9 L917.5,501.5 L934.05,500.1 L950.6,499.1 L967.15,498.4 L983.7,497 C989.2,496.1 994.7,468.7 1000.25,468.7 C1005.8,468.7 1011.3,493.6 1016.8,493.6 L1033.35,491.5 L1049.9,489.4 L1066.45,487.7 L1083,491.8 L1099.55,487 L1116.1,482.9 L1132.65,479.4 L1149.2,478.5 L1149.2,562 L90,562 Z"/>
<path fill="none" stroke="#0891b2" stroke-width="2.5" stroke-linejoin="round" stroke-linecap="round" d="M90,548.4 L106.55,549.5 L123.1,549.5 L139.65,547.4 L156.2,547.4 L172.75,549.8 L189.3,548.8 L205.85,548.1 L222.4,547.7 L238.95,545.3 C244.5,543.7 250,526.9 255.5,526 L272.05,524.6 L288.6,521.5 L305.15,518.4 L321.7,517 L338.25,518.8 L354.8,517.7 L371.35,519.8 L387.9,518.8 L404.45,517 L421,518.8 L437.55,518.8 L454.1,518.8 L470.65,519.1 L487.2,518.4 L503.75,517.4 L520.3,516.3 L536.85,515.3 L553.4,513.6 L569.95,512.5 L586.5,510.5 L603.05,509.1 L619.6,510.5 L636.15,510.8 L652.7,510.1 L669.25,513.6 L685.8,511.9 L702.35,509.4 L718.9,508.7 L735.45,507.7 L752,508.7 L768.55,508.1 L785.1,507.4 L801.65,506.7 L818.2,505 L834.75,503.2 L851.3,502.9 L867.85,501.5 L884.4,501.8 L900.95,503.9 L917.5,501.5 L934.05,500.1 L950.6,499.1 L967.15,498.4 L983.7,497 C989.2,496.1 994.7,468.7 1000.25,468.7 C1005.8,468.7 1011.3,493.6 1016.8,493.6 L1033.35,491.5 L1049.9,489.4 L1066.45,487.7 L1083,491.8 L1099.55,487 L1116.1,482.9 L1132.65,479.4 L1149.2,478.5"/>
<circle cx="1149.2" cy="478.5" r="3.5" fill="#0891b2"/>
<text x="1150" y="469.5" text-anchor="middle" font-family="DejaVu Sans Mono, monospace" font-size="10" font-weight="bold" fill="#0e7490">$266.7B</text>
</svg>

<div class="a cbl" style="left:760px;top:403.5px;">$1.7B</div>
<div class="a cbl" style="right:40px;top:403.5px;text-align:right;">$537.6B</div>

<div class="a foot">Data: WB WDI · macrovedia.com/series/419dd661ea72b2ba</div>
</body>
</html>
